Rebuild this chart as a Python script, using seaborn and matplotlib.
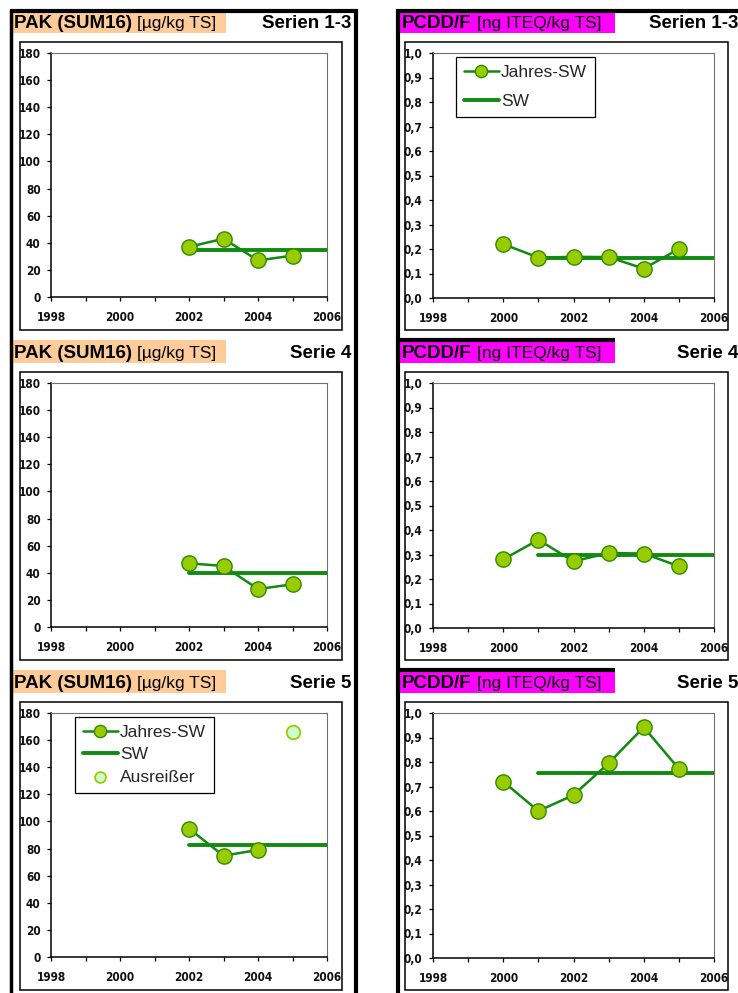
import matplotlib
matplotlib.use("Agg")
import matplotlib.pyplot as plt
import seaborn as sns
from matplotlib.patches import Rectangle
from matplotlib.lines import Line2D
from matplotlib import font_manager
from matplotlib.font_manager import FontProperties

# Data
years_pak = [2002, 2003, 2004, 2005]
years_pcdd = [2000, 2001, 2002, 2003, 2004, 2005]

pak_s13 = [37, 43, 27, 30.5]
pak_s13_sw = 34.5
pcdd_s13 = [0.22, 0.165, 0.168, 0.167, 0.12, 0.20]
pcdd_s13_sw = 0.165

pak_s4 = [47, 45, 28, 31.5]
pak_s4_sw = 39.7
pcdd_s4 = [0.28, 0.36, 0.272, 0.306, 0.304, 0.252]
pcdd_s4_sw = 0.298

years_pak_s5 = [2002, 2003, 2004]
pak_s5 = [94.7, 74.7, 79]
pak_s5_out_year = [2005]
pak_s5_out = [166]
pak_s5_sw = 82.8
pcdd_s5 = [0.72, 0.60, 0.665, 0.795, 0.942, 0.772]
pcdd_s5_sw = 0.755

sw_span_pak = [2002, 2006]
sw_span_pcdd = [2001, 2006]

series_titles = ["Serien 1-3", "Serie 4", "Serie 5"]
pak_ticks = [0, 20, 40, 60, 80, 100, 120, 140, 160, 180]
pcdd_ticks = [0.0, 0.1, 0.2, 0.3, 0.4, 0.5, 0.6, 0.7, 0.8, 0.9, 1.0]

# colours
LINE_GREEN = "#118a11"
MARK_FILL = "#99cc00"
MARK_EDGE = "#2e8b00"
OUT_FILL = "#ccffcc"
OUT_EDGE = "#99cc00"
ORANGE = "#ffcc99"
MAGENTA = "#ff00ff"

sns.set_theme(style="white")
plt.rcParams["font.family"] = ["Liberation Sans", "DejaVu Sans"]

# narrow font for ticks if there is one
has_cond = any(f.name == "DejaVu Sans" and str(f.stretch) in ("condensed", "semi-condensed")
               for f in font_manager.fontManager.ttflist)
if has_cond:
    TICK_FP = FontProperties(family="DejaVu Sans", stretch="condensed", weight="bold", size=8.5)
else:
    TICK_FP = FontProperties(family="Liberation Sans", weight="bold", size=8.5)
LEG_FP = FontProperties(family="Liberation Sans", size=12.5)

W, H = 738, 993
fig = plt.figure(figsize=(W / 100, H / 100), dpi=100)
fig.patch.set_facecolor("white")
renderer = fig.canvas.get_renderer()


def fx(x):
    return x / W


def fy(y):
    return 1 - y / H


def rect(x0, y0, x1, y1, **kw):
    fig.add_artist(Rectangle((fx(x0), fy(y1)), (x1 - x0) / W, (y1 - y0) / H,
                             transform=fig.transFigure, **kw))


def hline(x0, x1, y, lw):
    fig.add_artist(Line2D([fx(x0), fx(x1)], [fy(y), fy(y)], transform=fig.transFigure,
                          color="black", lw=lw, solid_capstyle="butt"))


def vline(x, y0, y1, lw):
    fig.add_artist(Line2D([fx(x), fx(x)], [fy(y0), fy(y1)], transform=fig.transFigure,
                          color="black", lw=lw, solid_capstyle="butt"))


def title_band(x0, x1, r, color, bold_txt, unit_txt, series, right_x):
    rect(x0, r + 10, x1, r + 33, facecolor=color, edgecolor="none")
    t1 = fig.text(fx(x0 + 2), fy(r + 28), bold_txt, fontsize=13.5, fontweight="bold",
                  va="baseline", ha="left", color="black")
    bb = t1.get_window_extent(renderer)
    fig.text(fx(bb.x1 + 5), fy(r + 28), unit_txt, fontsize=12.5,
             va="baseline", ha="left", color="black")
    fig.text(fx(right_x), fy(r + 28), series, fontsize=13.5, fontweight="bold",
             va="baseline", ha="right", color="black")


def style_axes(ax, ylim, yticks, yfmt):
    ax.set_xlim(1998, 2006)
    ax.set_ylim(*ylim)
    ax.set_xticks([1998, 2000, 2002, 2004, 2006])
    ax.set_xticks([1999, 2001, 2003, 2005], minor=True)
    ax.set_yticks(yticks)
    ax.set_yticklabels([yfmt(v) for v in yticks])
    ax.set_xlabel("")
    ax.set_ylabel("")
    for s in ["left", "bottom"]:
        ax.spines[s].set_color("black")
        ax.spines[s].set_linewidth(1.1)
    for s in ["top", "right"]:
        ax.spines[s].set_color("#707070")
        ax.spines[s].set_linewidth(0.8)
    ax.tick_params(axis="both", which="both", direction="out", length=3, width=0.9,
                   color="black", bottom=True, left=True, top=False, right=False)
    ax.tick_params(axis="x", which="major", pad=7)
    ax.tick_params(axis="y", which="major", pad=4.5)
    for lab in ax.get_xticklabels() + ax.get_yticklabels():
        lab.set_fontproperties(TICK_FP)
        lab.set_color("#111111")
    ax.grid(False)


def draw_series(ax, years, vals, sw_span, sw_val):
    sns.lineplot(x=sw_span, y=[sw_val, sw_val], ax=ax, color=LINE_GREEN, linewidth=2.8,
                 label="SW", legend=False)
    sns.lineplot(x=years, y=vals, ax=ax, color=LINE_GREEN, linewidth=1.8, marker="o",
                 markersize=11, markerfacecolor=MARK_FILL, markeredgecolor=MARK_EDGE,
                 markeredgewidth=1.0, label="Jahres-SW", legend=False)


def add_legend(ax, names, anchor, spacing):
    h, l = ax.get_legend_handles_labels()
    order = [l.index(n) for n in names]
    leg = ax.legend([h[k] for k in order], [l[k] for k in order], loc="upper left",
                    bbox_to_anchor=anchor, borderaxespad=0, frameon=True,
                    fancybox=False, edgecolor="black", framealpha=1, prop=LEG_FP,
                    handlelength=2.0, handletextpad=0.15, labelspacing=spacing,
                    borderpad=0.45, markerscale=0.8)
    leg.get_frame().set_linewidth(0.9)


rows = [0, 330, 660]
pak_data = [(years_pak, pak_s13, pak_s13_sw), (years_pak, pak_s4, pak_s4_sw),
            (years_pak_s5, pak_s5, pak_s5_sw)]
pcdd_data = [(years_pcdd, pcdd_s13, pcdd_s13_sw), (years_pcdd, pcdd_s4, pcdd_s4_sw),
             (years_pcdd, pcdd_s5, pcdd_s5_sw)]

for i, r in enumerate(rows):
    # left column: PAK
    title_band(12, 226, r, ORANGE, "PAK (SUM16)", "[µg/kg TS]", series_titles[i], 351)
    rect(20, r + 42, 342, r + 330, facecolor="none", edgecolor="black", lw=1.1)
    ax = fig.add_axes([fx(51), fy(r + 297), 276 / W, 244 / H])
    yrs, vals, sw = pak_data[i]
    draw_series(ax, yrs, vals, sw_span_pak, sw)
    if i == 2:
        sns.scatterplot(x=pak_s5_out_year, y=pak_s5_out, ax=ax, s=95, color=OUT_FILL,
                        edgecolor=OUT_EDGE, linewidth=1.3, label="Ausreißer", legend=False,
                        zorder=5)
    style_axes(ax, (0, 180), pak_ticks, lambda v: f"{v:d}")
    if i == 2:
        add_legend(ax, ["Jahres-SW", "SW", "Ausreißer"], (0.087, 0.984), 0.42)

    # right column: PCDD/F
    if i == 0:
        hline(398, 738, 10.5, 3)
    else:
        hline(398, 615, r + 9.5, 3)
    title_band(400, 615, r, MAGENTA, "PCDD/F", "[ng ITEQ/kg TS]", series_titles[i], 738)
    rect(405, r + 42, 728, r + 330, facecolor="none", edgecolor="black", lw=1.1)
    ax2 = fig.add_axes([fx(433), fy(r + 298), 281 / W, 245 / H])
    yrs, vals, sw = pcdd_data[i]
    draw_series(ax2, yrs, vals, sw_span_pcdd, sw)
    style_axes(ax2, (0, 1.0), pcdd_ticks, lambda v: f"{v:.1f}".replace(".", ","))
    if i == 0:
        add_legend(ax2, ["Jahres-SW", "SW"], (0.082, 0.984), 0.8)

# thick black column borders
vline(11, 9, 993, 2.5)
vline(356, 9, 993, 3)
hline(9.5, 357.5, 10.5, 3)
vline(398, 9, 993, 3)

fig.savefig("out.png", dpi=100, facecolor="white")
